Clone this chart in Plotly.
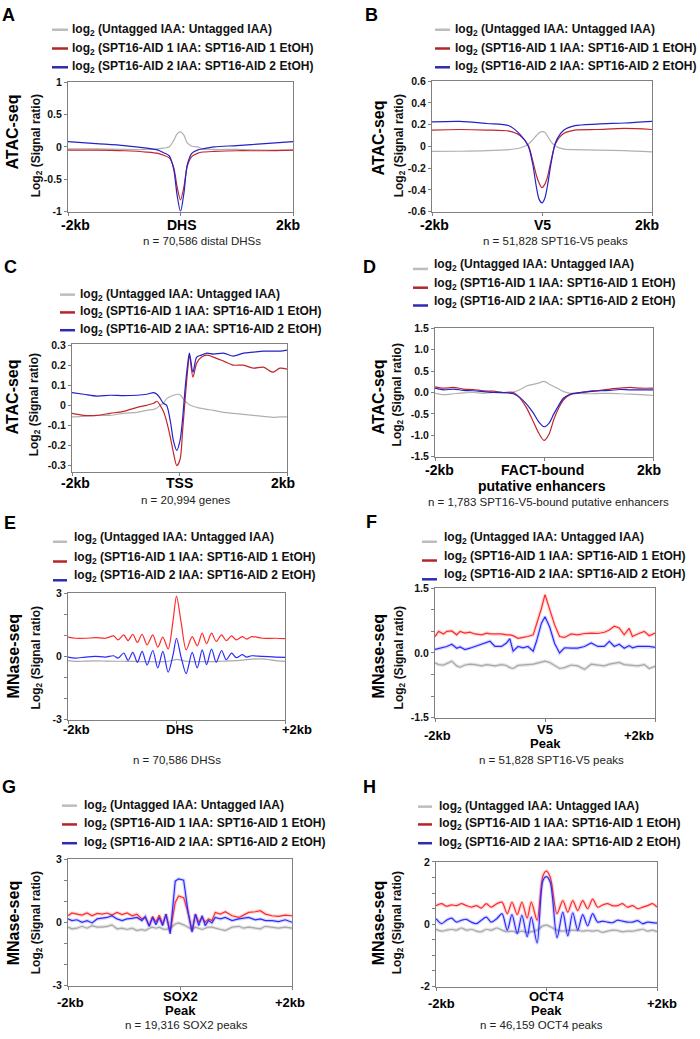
import plotly.graph_objects as go

W, H = 700, 1039

# ---- data: x = bp from centre, y = log2 signal ratio ----
A_X = [-2000, -1500, -1000, -600, -400, -300, -200, -120, -60, 0, 60, 120, 200, 300, 400, 600, 1000, 1500, 2000]
A_UNTAGGED = [-0.03, -0.03, -0.04, -0.04, -0.03, -0.02, 0.0, 0.1, 0.2, 0.23, 0.18, 0.06, 0.01, 0.0, -0.03, -0.04, -0.04, -0.05, -0.05]
A_AID1 = [-0.05, -0.05, -0.06, -0.08, -0.10, -0.13, -0.17, -0.32, -0.62, -0.82, -0.62, -0.30, -0.15, -0.10, -0.08, -0.07, -0.06, -0.06, -0.05]
A_AID2 = [0.08, 0.05, 0.02, -0.02, -0.05, -0.09, -0.14, -0.35, -0.75, -1.0, -0.72, -0.28, -0.10, -0.05, -0.03, 0.0, 0.02, 0.05, 0.08]

B_X = [-2000, -1500, -1000, -600, -400, -250, -170, -100, -50, 0, 50, 100, 170, 250, 400, 600, 1000, 1500, 2000]
B_UNTAGGED = [-0.047, -0.045, -0.04, -0.03, -0.015, 0.02, 0.06, 0.1, 0.125, 0.135, 0.13, 0.095, 0.04, 0.0, -0.026, -0.03, -0.035, -0.04, -0.05]
B_AID1 = [0.15, 0.155, 0.15, 0.14, 0.10, 0.01, -0.13, -0.27, -0.34, -0.38, -0.35, -0.28, -0.12, 0.03, 0.12, 0.15, 0.155, 0.165, 0.155]
B_AID2 = [0.225, 0.23, 0.21, 0.19, 0.11, 0.0, -0.16, -0.38, -0.49, -0.52, -0.48, -0.36, -0.14, 0.04, 0.15, 0.19, 0.205, 0.215, 0.23]

C_X = [-2000, -1780, -1530, -1290, -1040, -790, -610, -480, -420, -360, -300, -240, -170, -110, -50, 10, 60,
       105, 150, 185, 250, 320, 410, 510, 630, 820, 1000, 1190, 1370, 1560, 1740, 1870, 2000]
C_UNTAGGED = [-0.058, -0.055, -0.05, -0.05, -0.04, -0.035, -0.025, -0.02, -0.013, 0.0, 0.01, 0.033, 0.044, 0.05, 0.055, 0.052, 0.035,
              0.02, 0.01, 0.003, -0.005, -0.01, -0.015, -0.02, -0.025, -0.035, -0.04, -0.045, -0.05, -0.055, -0.06, -0.058, -0.058]
C_AID1 = [-0.04, -0.05, -0.05, -0.04, -0.03, -0.01, 0.0, 0.01, 0.02, 0.0, -0.03, -0.08, -0.16, -0.24, -0.30, -0.27, -0.12,
          0.03, 0.17, 0.25, 0.14, 0.21, 0.24, 0.25, 0.24, 0.22, 0.20, 0.20, 0.185, 0.19, 0.165, 0.185, 0.18]
C_AID2 = [0.063, 0.055, 0.046, 0.05, 0.048, 0.05, 0.055, 0.063, 0.055, 0.035, 0.01, 0.0, -0.08, -0.18, -0.225, -0.175, -0.06,
          0.085, 0.2, 0.26, 0.165, 0.24, 0.25, 0.26, 0.255, 0.26, 0.245, 0.26, 0.265, 0.27, 0.27, 0.27, 0.275]

D_X = [-2000, -1840, -1660, -1480, -1300, -1110, -930, -750, -560, -440, -320, -200, -100, 0,
       90, 180, 270, 360, 480, 660, 840, 1030, 1210, 1390, 1580, 1760, 2000]
D_UNTAGGED = [-0.02, -0.05, -0.03, -0.01, 0.0, -0.02, 0.0, -0.02, 0.01, 0.07, 0.15, 0.19, 0.22, 0.26,
              0.2, 0.14, 0.08, 0.02, -0.02, -0.02, -0.03, -0.02, -0.02, -0.03, -0.04, -0.05, -0.07]
D_AID1 = [0.13, 0.10, 0.12, 0.08, 0.07, 0.04, 0.03, 0.0, 0.0, -0.13, -0.36, -0.67, -0.94, -1.12,
          -0.98, -0.63, -0.36, -0.17, -0.05, -0.01, 0.03, 0.05, 0.08, 0.1, 0.12, 0.10, 0.10]
D_AID2 = [0.1, 0.06, 0.08, 0.05, 0.04, 0.02, 0.0, 0.0, -0.03, -0.12, -0.27, -0.47, -0.68, -0.8,
          -0.72, -0.5, -0.3, -0.13, -0.04, 0.0, 0.02, 0.04, 0.05, 0.07, 0.06, 0.06, 0.06]

E_X = [-2000, -1865, -1680, -1495, -1310, -1157, -1077, -972, -892, -806, -720, -634, -542, -437, -345, -252, -154, -62, 0,
       86, 178, 289, 382, 474, 554, 646, 732, 831, 917, 1015, 1102, 1212, 1292, 1385, 1580, 1830, 2000]
E_UNTAGGED = [-0.2, -0.24, -0.22, -0.21, -0.22, -0.23, -0.23, -0.23, -0.24, -0.24, -0.24, -0.25, -0.25, -0.25, -0.26, -0.25, -0.23, -0.18, -0.14,
              -0.18, -0.23, -0.25, -0.25, -0.25, -0.25, -0.25, -0.24, -0.23, -0.22, -0.21, -0.2, -0.18, -0.15, -0.13, -0.12, -0.2, -0.24]
E_AID1 = [0.91, 0.86, 0.86, 0.89, 0.86, 0.97, 0.78, 1.02, 0.75, 1.05, 0.66, 1.05, 0.55, 1.02, 0.44, 0.91, 0.35, 1.73, 2.86,
          1.6, 0.31, 0.94, 0.5, 1.1, 0.6, 1.1, 0.71, 1.02, 0.75, 0.97, 0.78, 0.94, 0.82, 0.94, 0.86, 0.86, 0.84]
E_AID2 = [-0.03, -0.08, -0.03, 0.0, -0.03, 0.03, -0.08, 0.16, -0.19, 0.19, -0.28, 0.24, -0.41, 0.28, -0.55, 0.24, -0.75, 0.1, 0.86,
          -0.05, -0.82, 0.19, -0.55, 0.31, -0.39, 0.35, -0.28, 0.28, -0.16, 0.16, -0.06, 0.08, -0.03, 0.03, 0.0, -0.03, -0.05]

F_X = [-2000, -1935, -1845, -1785, -1695, -1605, -1545, -1455, -1365, -1275, -1150, -1060, -1000, -910, -790, -700, -640, -580,
       -490, -400, -310, -215, -155, -65, 0, 85, 175, 265, 355, 475, 595, 720, 840, 960, 1080, 1170, 1260, 1350, 1440, 1530,
       1590, 1685, 1805, 1895, 2000]
F_UNTAGGED = [-0.23, -0.27, -0.28, -0.24, -0.19, -0.3, -0.33, -0.28, -0.26, -0.27, -0.3, -0.27, -0.28, -0.3, -0.27, -0.29, -0.34, -0.36,
              -0.29, -0.28, -0.28, -0.26, -0.24, -0.22, -0.19, -0.22, -0.3, -0.36, -0.34, -0.28, -0.3, -0.38, -0.26, -0.28, -0.3, -0.26,
              -0.24, -0.22, -0.27, -0.28, -0.29, -0.3, -0.27, -0.36, -0.31]
F_AID1 = [0.38, 0.5, 0.44, 0.5, 0.51, 0.42, 0.5, 0.46, 0.48, 0.44, 0.42, 0.46, 0.44, 0.44, 0.44, 0.42, 0.42, 0.4,
          0.34, 0.36, 0.38, 0.42, 0.65, 1.03, 1.35, 0.99, 0.65, 0.38, 0.36, 0.44, 0.42, 0.45, 0.46, 0.45, 0.48, 0.53,
          0.62, 0.58, 0.42, 0.57, 0.38, 0.44, 0.5, 0.4, 0.46]
F_AID2 = [0.08, 0.1, 0.12, 0.15, 0.2, 0.11, 0.14, 0.08, 0.11, 0.15, 0.2, 0.25, 0.27, 0.15, 0.15, 0.23, 0.33, 0.04,
          0.15, 0.12, 0.15, 0.04, 0.27, 0.69, 0.84, 0.6, 0.22, 0.0, 0.12, 0.11, 0.11, 0.15, 0.23, 0.15, 0.15, 0.27,
          0.15, 0.2, 0.11, 0.17, 0.12, 0.15, 0.15, 0.15, 0.13]

G_X = [-2000, -1930, -1840, -1750, -1660, -1570, -1480, -1390, -1300, -1215, -1125, -1035, -945, -855, -770, -680, -620,
       -550, -490, -430, -370, -310, -250, -175, -85, -25, 65, 145, 215, 275, 335, 395, 450, 510, 570, 630, 720, 810,
       930, 1050, 1135, 1225, 1345, 1435, 1525, 1645, 1760, 1880, 2000]
G_UNTAGGED = [-0.23, -0.31, -0.28, -0.19, -0.28, -0.16, -0.23, -0.23, -0.19, -0.12, -0.31, -0.28, -0.34, -0.28, -0.39, -0.34, -0.39,
              -0.28, -0.23, -0.28, -0.23, -0.31, -0.34, -0.28, -0.08, -0.03, -0.12, -0.23, -0.34, -0.23, -0.28, -0.34, -0.28, -0.23,
              -0.23, -0.28, -0.34, -0.39, -0.23, -0.19, -0.28, -0.23, -0.28, -0.31, -0.19, -0.23, -0.28, -0.23, -0.28]
G_AID1 = [0.31, 0.44, 0.39, 0.34, 0.44, 0.31, 0.42, 0.39, 0.44, 0.34, 0.47, 0.37, 0.44, 0.31, 0.39, 0.16, 0.23,
          -0.16, 0.28, 0.0, 0.34, -0.08, 0.39, -0.44, 0.94, 1.25, 1.17, 0.45, -0.39, 0.39, 0.0, 0.23, 0.0, 0.16,
          0.08, 0.47, 0.39, 0.5, 0.31, 0.23, 0.34, 0.47, 0.5, 0.55, 0.39, 0.31, 0.28, 0.34, 0.31]
G_AID2 = [0.16, 0.08, 0.12, 0.0, 0.08, -0.03, 0.16, 0.19, 0.23, 0.31, 0.16, 0.08, 0.16, 0.19, 0.23, 0.08, 0.28,
          -0.19, 0.23, -0.12, 0.23, -0.16, 0.39, -0.55, 1.95, 2.06, 2.0, 0.47, -0.47, 0.39, -0.16, 0.31, -0.16, 0.08,
          -0.03, 0.23, 0.16, 0.23, 0.08, 0.16, 0.19, 0.23, 0.12, 0.16, 0.08, 0.08, 0.03, 0.12, 0.0]

H_X = [-2000, -1900, -1810, -1720, -1630, -1540, -1450, -1360, -1270, -1180, -1090, -1000, -900, -805, -710, -625, -530,
       -445, -350, -275, -170, -65, 0, 70, 190, 295, 385, 475, 565, 655, 745, 835, 925, 1015, 1105, 1195, 1285, 1375,
       1465, 1560, 1650, 1740, 1830, 1920, 2000]
H_UNTAGGED = [-0.16, -0.22, -0.19, -0.16, -0.19, -0.12, -0.19, -0.16, -0.22, -0.24, -0.16, -0.19, -0.12, -0.19, -0.24, -0.22, -0.26,
              -0.22, -0.26, -0.24, -0.19, -0.05, -0.03, -0.08, -0.19, -0.22, -0.2, -0.19, -0.2, -0.22, -0.2, -0.22, -0.2, -0.26,
              -0.22, -0.19, -0.2, -0.24, -0.22, -0.22, -0.19, -0.16, -0.22, -0.19, -0.24]
H_AID1 = [0.6, 0.66, 0.58, 0.62, 0.6, 0.66, 0.6, 0.55, 0.6, 0.52, 0.66, 0.55, 0.66, 0.71, 0.34, 0.71, 0.31,
          0.71, 0.2, 0.71, 0.13, 1.56, 1.71, 1.5, 0.34, 0.76, 0.39, 0.76, 0.44, 0.76, 0.5, 0.81, 0.55, 0.62, 0.66,
          0.6, 0.6, 0.66, 0.55, 0.6, 0.5, 0.55, 0.6, 0.66, 0.55]
H_AID2 = [0.18, 0.02, 0.13, 0.2, 0.07, 0.13, 0.16, 0.07, 0.02, 0.13, 0.23, 0.07, 0.18, 0.34, -0.19, 0.31, -0.3,
          0.29, -0.4, 0.23, -0.6, 1.4, 1.53, 1.34, -0.43, 0.39, -0.37, 0.37, -0.19, 0.31, -0.05, 0.34, 0.07, 0.1,
          0.07, 0.05, 0.13, 0.1, 0.07, 0.07, 0.12, 0.02, 0.07, 0.05, 0.04]

LEGEND_TEXT = [
    "log<sub>2</sub> (Untagged IAA: Untagged IAA)",
    "log<sub>2</sub> (SPT16-AID 1 IAA: SPT16-AID 1 EtOH)",
    "log<sub>2</sub> (SPT16-AID 2 IAA: SPT16-AID 2 EtOH)",
]
LEGEND_COLORS = ["#bdbdbd", "#b3262b", "#2b2bb3"]
ATAC_COLORS = ["#b0b0b0", "#c0272d", "#2323c8"]
MNASE_COLORS = ["#a8a8a8", "#ff2b2b", "#2b2bff"]
BAND_COLORS = ["rgba(150,150,150,0.25)", "rgba(255,60,60,0.2)", "rgba(60,60,255,0.2)"]

FONT = "Liberation Sans, Arial, sans-serif"
FRAME = "#808080"


def px(x):
    return x / W


def py(y):
    return 1 - y / H


panels = [
    dict(letter="A", lxy=(8, 9), box=(68, 293, 77, 208), yr=(-1, 1),
         yt=[-1, -0.5, 0, 0.5, 1], yl=["-1", "-0.5", "0", "0.5", "1"],
         assay="ATAC-seq", axy=(13, 128), txy=(37, 142), rows=(24, 43, 62), samp=(52, 68), tx=70, sdy=0,
         x=A_X, ys=[A_UNTAGGED, A_AID1, A_AID2], colors=ATAC_COLORS, band=False, shape="spline", xfs=14,
         xl=[("-2kb", -2000, 7, 222), ("DHS", 0, 1, 222), ("2kb", 2000, -5, 222)],
         n=("n = 70,586 distal DHSs", 202, 238)),
    dict(letter="B", lxy=(371, 9), box=(432, 652, 76, 208), yr=(-0.6, 0.6),
         yt=[-0.6, -0.4, -0.2, 0, 0.2, 0.4, 0.6], yl=["-0.6", "-0.4", "-0.2", "0", "0.2", "0.4", "0.6"],
         assay="ATAC-seq", axy=(378, 134), txy=(400, 142), rows=(24, 43, 62), samp=(435, 450), tx=453, sdy=0,
         x=B_X, ys=[B_UNTAGGED, B_AID1, B_AID2], colors=ATAC_COLORS, band=False, shape="spline", xfs=14,
         xl=[("-2kb", -2000, 2, 222), ("V5", 0, 0, 222), ("2kb", 2000, -5, 222)],
         n=("n = 51,828 SPT16-V5 peaks", 555, 238)),
    dict(letter="C", lxy=(10, 264), box=(72, 287, 342, 471), yr=(-0.33, 0.305),
         yt=[-0.3, -0.2, -0.1, 0, 0.1, 0.2, 0.3], yl=["-0.3", "-0.2", "-0.1", "0", "0.1", "0.2", "0.3"],
         assay="ATAC-seq", axy=(12, 396), txy=(35, 404), rows=(292, 310, 328), samp=(60, 75), tx=78, sdy=0,
         x=C_X, ys=[C_UNTAGGED, C_AID1, C_AID2], colors=ATAC_COLORS, band=False, shape="spline", xfs=14,
         xl=[("-2kb", -2000, 3, 483), ("TSS", 0, 0, 483), ("2kb", 2000, -4, 483)],
         n=("n = 20,994 genes", 185, 500)),
    dict(letter="D", lxy=(369, 264), box=(435, 653, 326, 456), yr=(-1.5, 1.5),
         yt=[-1.5, -1, -0.5, 0, 0.5, 1, 1.5], yl=["-1.5", "-1.0", "-0.5", "0.0", "0.5", "1.0", "1.5"],
         assay="ATAC-seq", axy=(378, 396), txy=(398, 394), rows=(262, 281, 299), samp=(413, 428), tx=432, sdy=4,
         x=D_X, ys=[D_UNTAGGED, D_AID1, D_AID2], colors=ATAC_COLORS, band=False, shape="spline", xfs=14,
         xl=[("-2kb", -2000, 4, 469), ("FACT-bound", 0, -2, 469), ("putative enhancers", 0, -2, 486), ("2kb", 2000, -4, 469)],
         n=("n = 1,783 SPT16-V5-bound putative enhancers", 548, 502)),
    dict(letter="E", lxy=(10, 523), box=(68, 285, 594, 722), yr=(-3, 3),
         yt=[-3, -2, -1, 0, 1, 2, 3], yl=["-3", "", "", "0", "", "", "3"],
         assay="MNase-seq", axy=(13, 658), txy=(37, 660), rows=(538, 558, 577), samp=(53, 67), tx=72, sdy=4,
         x=E_X, ys=[E_UNTAGGED, E_AID1, E_AID2], colors=MNASE_COLORS, band=False, shape="spline", xfs=13,
         xl=[("-2kb", -2000, 8, 732), ("DHS", 0, 3, 732), ("+2kb", 2000, 12, 732)],
         n=("n = 70,586 DHSs", 177, 763)),
    dict(letter="F", lxy=(371, 522), box=(435, 655, 589, 720), yr=(-1.5, 1.5),
         yt=[-1.5, -1, -0.5, 0, 0.5, 1, 1.5], yl=["-1.5", "", "", "0.0", "", "", "1.5"],
         assay="MNase-seq", axy=(378, 658), txy=(400, 660), rows=(538, 557, 576), samp=(422, 437), tx=442, sdy=4,
         x=F_X, ys=[F_UNTAGGED, F_AID1, F_AID2], colors=MNASE_COLORS, band=True, shape="linear", xfs=13,
         xl=[("-2kb", -2000, 2, 738), ("V5", 0, 0, 732), ("Peak", 0, 0, 746), ("+2kb", 2000, -16, 738)],
         n=("n = 51,828 SPT16-V5 peaks", 551, 763)),
    dict(letter="G", lxy=(9, 790), box=(68, 292, 863, 991), yr=(-3, 3),
         yt=[-3, -2, -1, 0, 1, 2, 3], yl=["-3", "", "", "0", "", "", "3"],
         assay="MNase-seq", axy=(13, 928), txy=(37, 928), rows=(809, 828, 847), samp=(62, 77), tx=82, sdy=0,
         x=G_X, ys=[G_UNTAGGED, G_AID1, G_AID2], colors=MNASE_COLORS, band=True, shape="linear", xfs=13,
         xl=[("-2kb", -2000, 2, 1008), ("SOX2", 0, 0, 1002), ("Peak", 0, 0, 1016), ("+2kb", 2000, -2, 1008)],
         n=("n = 19,316 SOX2 peaks", 186, 1031)),
    dict(letter="H", lxy=(369, 790), box=(436, 657, 866, 992), yr=(-2, 2),
         yt=[-2, -1.5, -1, -0.5, 0, 0.5, 1, 1.5, 2], yl=["-2", "", "", "", "0", "", "", "", "2"],
         assay="MNase-seq", axy=(378, 928), txy=(398, 928), rows=(810, 828, 847), samp=(418, 432), tx=437, sdy=0,
         x=H_X, ys=[H_UNTAGGED, H_AID1, H_AID2], colors=MNASE_COLORS, band=True, shape="spline", xfs=13,
         xl=[("-2kb", -2000, 5, 1009), ("OCT4", 0, 0, 1002), ("Peak", 0, 0, 1016), ("+2kb", 2000, 5, 1009)],
         n=("n = 46,159 OCT4 peaks", 541, 1031)),
]

fig = go.Figure()
annotations = []
shapes = []


def note(text, x, y, size, bold=True, xanchor="center", angle=0, xref="paper", xshift=0, color="#111111"):
    annotations.append(dict(
        text="<b>%s</b>" % text if bold else text, x=x, y=y, xref=xref, yref="paper",
        xanchor=xanchor, yanchor="middle", showarrow=False, textangle=angle, xshift=xshift,
        font=dict(family=FONT, size=size, color=color)))


for i, p in enumerate(panels, start=1):
    xa = "x" if i == 1 else "x%d" % i
    ya = "y" if i == 1 else "y%d" % i
    x0, x1, y0, y1 = p["box"]

    # traces: faint error band first, then the line itself
    for ys, col, band in zip(p["ys"], p["colors"], BAND_COLORS):
        if p["band"]:
            fig.add_trace(go.Scatter(x=p["x"], y=ys, mode="lines", xaxis=xa, yaxis=ya,
                                     line=dict(color=band, width=3.5, shape=p["shape"]),
                                     hoverinfo="skip", showlegend=False))
        fig.add_trace(go.Scatter(x=p["x"], y=ys, mode="lines", xaxis=xa, yaxis=ya,
                                 line=dict(color=col, width=1.2, shape=p["shape"], smoothing=0.8),
                                 hoverinfo="skip", showlegend=False))

    fig.update_layout(**{
        ("xaxis" if i == 1 else "xaxis%d" % i): dict(
            domain=[px(x0), px(x1)], range=[-2000, 2000], anchor=ya,
            showline=True, linecolor=FRAME, linewidth=1, mirror=True,
            showgrid=False, zeroline=False, tickvals=[-2000, 0, 2000],
            ticks="outside", ticklen=3, tickcolor=FRAME, showticklabels=False),
        ("yaxis" if i == 1 else "yaxis%d" % i): dict(
            domain=[py(y1), py(y0)], range=list(p["yr"]), anchor=xa,
            showline=True, linecolor=FRAME, linewidth=1, mirror=True,
            showgrid=False, zeroline=False, tickvals=p["yt"],
            ticktext=["<b>%s</b>" % t for t in p["yl"]],
            ticks="outside", ticklen=3, tickcolor=FRAME,
            tickfont=dict(family=FONT, size=10.5, color="#111111")),
    })

    # panel letter, y titles
    note(p["letter"], px(p["lxy"][0]), py(p["lxy"][1]), 18, color="#000000")
    note(p["assay"], px(p["axy"][0]), py(p["axy"][1]), 16, angle=-90, color="#000000")
    note("Log<sub>2</sub> (Signal ratio)", px(p["txy"][0]), py(p["txy"][1]), 12, angle=-90)

    # legend drawn by hand
    for row, text, col in zip(p["rows"], LEGEND_TEXT, LEGEND_COLORS):
        shapes.append(dict(type="line", xref="paper", yref="paper",
                           x0=px(p["samp"][0]), x1=px(p["samp"][1]),
                           y0=py(row + p["sdy"]), y1=py(row + p["sdy"]),
                           line=dict(color=col, width=2.5)))
        note(text, px(p["tx"]), py(row), 12, xanchor="left")

    # x labels at the axis positions
    for text, xv, shift, ypx in p["xl"]:
        note(text, xv, py(ypx), p["xfs"], xref=xa, xshift=shift, color="#000000")

    note(p["n"][0], px(p["n"][1]), py(p["n"][2]), 11.5, bold=False, color="#222222")

fig.update_layout(
    width=W, height=H, margin=dict(l=0, r=0, t=0, b=0),
    paper_bgcolor="white", plot_bgcolor="white", showlegend=False,
    annotations=annotations, shapes=shapes,
)

# the page's default body margin would push the 700x1039 figure off the window
fig.write_html("out.html", config={"displayModeBar": False},
               post_script="document.body.style.margin='0';document.body.style.overflow='hidden';")
